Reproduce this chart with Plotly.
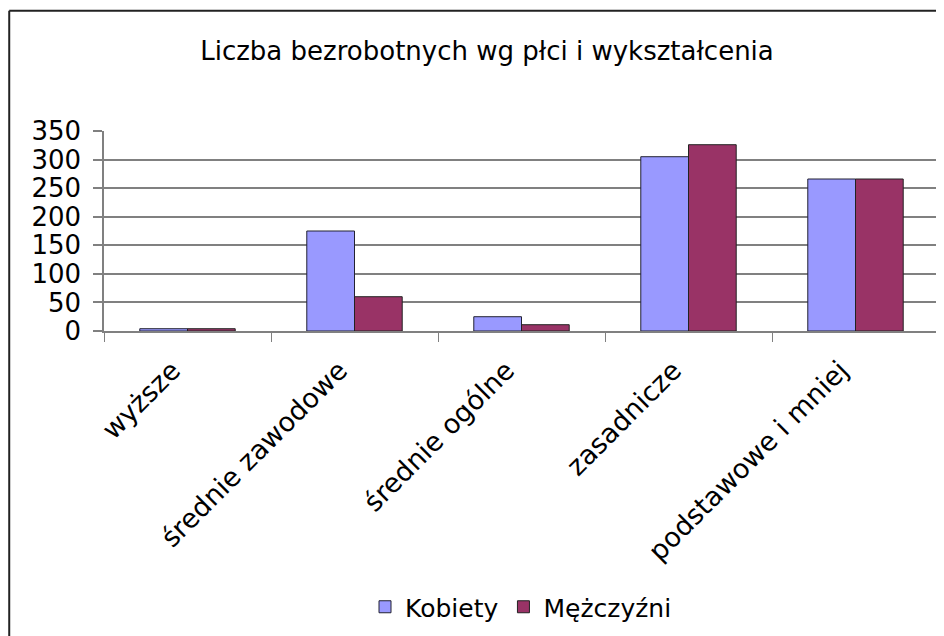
import plotly.graph_objects as go

categories = ["wyższe", "średnie zawodowe", "średnie ogólne", "zasadnicze", "podstawowe i mniej"]
kobiety = [4, 175, 25, 305, 266]
mezczyzni = [4, 60, 11, 326, 266]
series_names = ["Kobiety", "Mężczyźni"]
title_text = "Liczba bezrobotnych wg płci i wykształcenia"
y_ticks = [0, 50, 100, 150, 200, 250, 300, 350]

FONT = "DejaVu Sans"
GRID = "#808080"

# the page body adds an 8px offset; figure is sized to fill the rest of the window
W, H = 936, 628
L, R, T, B = 96, 3, 123, 305
PW = W - L - R
PH = H - T - B

fig = go.Figure()
fig.add_trace(go.Bar(x=categories, y=kobiety, name=series_names[0],
                     marker=dict(color="#9999FF", line=dict(color="#222233", width=1))))
fig.add_trace(go.Bar(x=categories, y=mezczyzni, name=series_names[1],
                     marker=dict(color="#993366", line=dict(color="#222222", width=1))))

fig.update_layout(
    width=W, height=H,
    margin=dict(l=L, r=R, t=T, b=B, pad=0),
    paper_bgcolor="white", plot_bgcolor="white",
    font=dict(family=FONT, size=26, color="black"),
    barmode="group", bargap=1.5/3.5, bargroupgap=0,
    title=dict(text=title_text, x=479/W, xref="container", xanchor="center",
               y=1-43/H, yref="container", yanchor="middle",
               font=dict(family=FONT, size=26, color="black")),
    showlegend=True,
    legend=dict(orientation="h", x=(514-L)/PW, xanchor="center",
                y=(T+PH-599)/PH, yanchor="middle",
                font=dict(family=FONT, size=25, color="black"),
                bgcolor="rgba(0,0,0,0)", traceorder="normal"),
    xaxis=dict(type="category", tickangle=-45, tickson="boundaries",
               ticks="outside", ticklen=9, tickcolor=GRID, tickwidth=1,
               showline=True, linecolor=GRID, linewidth=1.5, showgrid=False,
               ticklabelshift=-15, ticklabelstandoff=11,
               tickfont=dict(family=FONT, size=27, color="black")),
    yaxis=dict(range=[0, 350], tickvals=y_ticks, ticks="outside", ticklen=9,
               tickcolor=GRID, tickwidth=1.5, showline=True, mirror=True,
               linecolor=GRID, linewidth=1.5, showgrid=True, gridcolor=GRID,
               gridwidth=1.5, zeroline=False, ticklabelstandoff=7,
               tickfont=dict(family=FONT, size=26, color="black")),
)

# chart-area border (cropped at right and bottom in the reference)
bx = (1 - L) / PW
by = (T + PH - 2.7) / PH
fig.add_shape(type="line", xref="paper", yref="paper",
              x0=bx, x1=bx, y0=(T + PH - 700) / PH, y1=by,
              line=dict(color="#222222", width=2))
fig.add_shape(type="line", xref="paper", yref="paper",
              x0=bx, x1=(1000 - L) / PW, y0=by, y1=by,
              line=dict(color="#222222", width=2))

fig.write_html("out.html")
